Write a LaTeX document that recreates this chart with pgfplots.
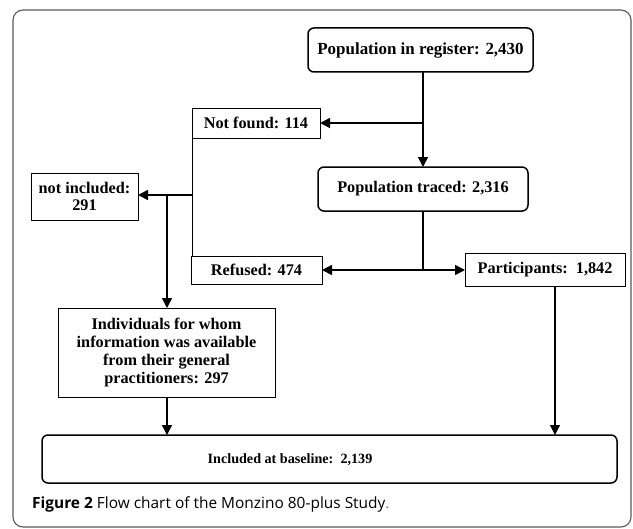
\documentclass[border=0pt]{standalone}
\usepackage{pgfplots}
\pgfplotsset{compat=1.18}
\usepackage{fontspec}
\setmainfont{Liberation Serif}
\newfontfamily\capfont{Open Sans}
\usetikzlibrary{arrows.meta}
\begin{document}
\begin{tikzpicture}[
  box/.style={draw, line width=0.9bp, inner sep=0pt, align=center,
    font=\bfseries\fontsize{16.3}{18.3}\selectfont},
  rbox/.style={box, rounded corners=6bp, line width=1.5bp},
]
\begin{axis}[scale only axis, width=633bp, height=529bp,
  xmin=0, xmax=633, ymin=0, ymax=529, y dir=reverse,
  hide axis, clip=false]
\path (axis cs:0,0) rectangle (axis cs:633,529);
% outer frame
\draw[rounded corners=10bp, color=black!65, line width=1.1bp]
  (axis cs:13,10) rectangle (axis cs:631,527);
% connectors
\addplot[line width=1.6bp, -{Triangle[length=10bp,width=10bp]}] coordinates {(423,72) (423,167)};
\addplot[line width=1.6bp, -{Triangle[length=10bp,width=10bp]}] coordinates {(423,123) (320,123)};
\addplot[line width=1.6bp] coordinates {(423,211) (423,270)};
\addplot[line width=1.6bp, -{Triangle[length=10bp,width=10bp]}] coordinates {(423,270) (322,270)};
\addplot[line width=1.6bp, -{Triangle[length=10bp,width=10bp]}] coordinates {(423,270) (465,270)};
\addplot[line width=0.9bp] coordinates {(192,138) (192,256)};
\addplot[line width=1.6bp, -{Triangle[length=10bp,width=10bp]}] coordinates {(192,195) (138,195)};
\addplot[line width=1.6bp, -{Triangle[length=10bp,width=10bp]}] coordinates {(167,195) (167,308)};
\addplot[line width=1.6bp, -{Triangle[length=10bp,width=10bp]}] coordinates {(167,397) (167,435)};
\addplot[line width=1.2bp, -{Triangle[length=10bp,width=10bp]}] coordinates {(555,286) (555,435)};
% boxes
\node[rbox, minimum width=225bp, minimum height=44bp, font=\bfseries\fontsize{17}{19}\selectfont] at (axis cs:420.5,50) {Population in register: 2,430};
\node[box, minimum width=128bp, minimum height=30bp, fill=white] at (axis cs:256,123) {Not found: 114};
\node[rbox, minimum width=210bp, minimum height=44bp] at (axis cs:423,189) {Population traced: 2,316};
\node[box, minimum width=131bp, minimum height=28bp, fill=white] at (axis cs:256.5,270) {Refused: 474};
\node[box, minimum width=160bp, minimum height=33bp] at (axis cs:545,269.5) {Participants:\ \ 1,842};
\node[box, minimum width=107bp, minimum height=47bp, font=\bfseries\fontsize{16.3}{17.3}\selectfont] at (axis cs:84.5,196.5) {not included:\\291};
\node[box, minimum width=217bp, minimum height=89bp] at (axis cs:166.5,352.5) {Individuals for whom\\information was available\\from their general\\practitioners: 297};
\node[rbox, minimum width=575bp, minimum height=48bp] at (axis cs:329.5,459) {};
\node[font=\bfseries\fontsize{14.2}{16}\selectfont, inner sep=0pt] at (axis cs:290,460) {Included at baseline:\ \ 2,139};
% caption
\node[anchor=base west, inner sep=0pt, font=\capfont\fontsize{15.5}{18}\selectfont] at (axis cs:32,508)
  {\textbf{Figure 2} Flow chart of the Monzino 80-plus Study{\color{gray}.}};
\end{axis}
\end{tikzpicture}
\end{document}
